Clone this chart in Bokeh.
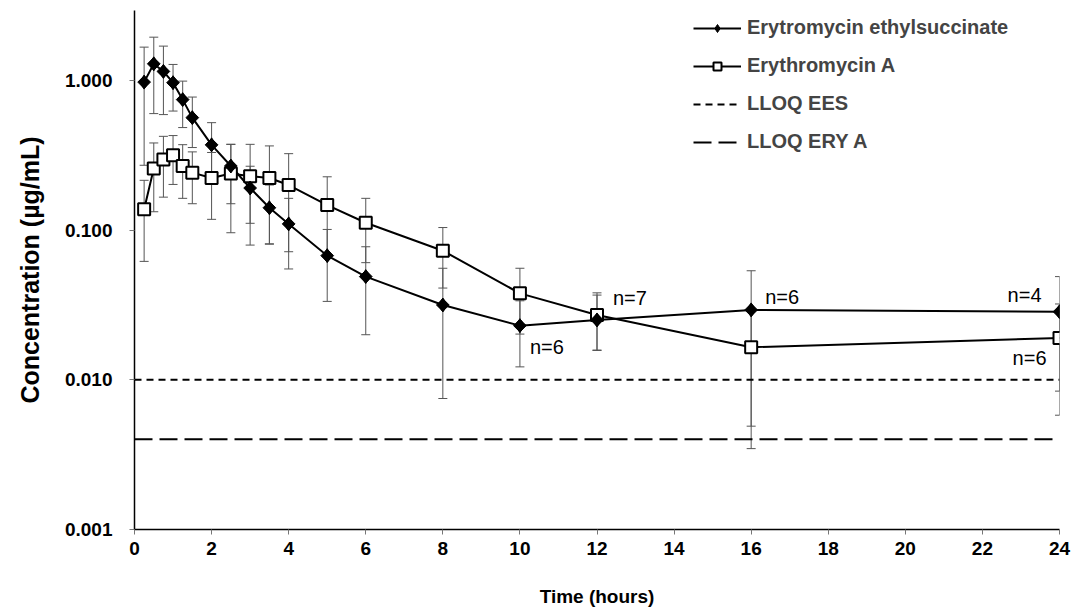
from bokeh.plotting import figure
from bokeh.models import (FixedTicker, PrintfTickFormatter, Whisker, ColumnDataSource,
                          Legend, LegendItem, TeeHead, Range1d)
from bokeh.embed import file_html
from bokeh.resources import INLINE
from bokeh.core.properties import value

# ---------------- data ----------------
time_h = [0.25, 0.5, 0.75, 1, 1.25, 1.5, 2, 2.5, 3, 3.5, 4, 5, 6, 8, 10, 12, 16, 24]

ees_mean = [0.974, 1.29, 1.148, 0.965, 0.744, 0.564, 0.371, 0.268, 0.191, 0.141,
            0.110, 0.0675, 0.0489, 0.0316, 0.0230, 0.0251, 0.0293, 0.0285]
ees_upper = [1.668, 1.944, 1.694, 1.278, 0.989, 0.774, 0.522, 0.374, 0.267, 0.200,
             0.163, 0.101, 0.0774, 0.0556, 0.0337, 0.0368, 0.0535, 0.0489]
ees_lower = [0.271, 0.600, 0.591, 0.624, 0.484, 0.356, 0.220, 0.150, 0.111, 0.081,
             0.055, 0.0334, 0.020, 0.0075, 0.0122, 0.0157, 0.0049, 0.0084]

ery_mean = [0.138, 0.258, 0.296, 0.316, 0.268, 0.242, 0.223, 0.239, 0.229, 0.223,
            0.200, 0.147, 0.112, 0.0728, 0.0378, 0.0271, 0.0165, 0.0190]
ery_upper = [0.215, 0.382, 0.423, 0.428, 0.372, 0.333, 0.330, 0.374, 0.374, 0.365,
             0.324, 0.227, 0.163, 0.104, 0.0556, 0.0381, 0.0293, 0.0321]
ery_lower = [0.0618, 0.1326, 0.166, 0.2018, 0.163, 0.150, 0.118, 0.096, 0.0794, 0.0805,
             0.0717, 0.067, 0.0606, 0.0410, 0.0202, 0.0158, 0.00347, 0.0058]

lloq_ees = 0.010
lloq_ery = 0.004
lloq_span = [0, 24]

x_ticks = [0, 2, 4, 6, 8, 10, 12, 14, 16, 18, 20, 22, 24]
y_ticks = [0.001, 0.01, 0.1, 1.0]

# n= annotations, anchored to a series point
ann_text = ["n=6", "n=7", "n=6", "n=4", "n=6"]
ann_time = [10, 12, 16, 24, 24]
ann_series = ["ees", "ery", "ees", "ees", "ery"]

series_lookup = {"ees": ees_mean, "ery": ery_mean}
ann_value = [series_lookup[s][time_h.index(t)] for s, t in zip(ann_series, ann_time)]

# ---------------- styling ----------------
FONT = "Liberation Sans"
ann_dx = [10, 16, 14, -18, -13]
ann_dy = [21, -17, -13, -17, 20]
ann_align = ["left", "left", "left", "right", "right"]

p = figure(width=1074, height=612, y_axis_type="log",
           x_range=Range1d(0, 24), y_range=Range1d(0.001, 2.93),
           output_backend="svg", toolbar_location=None,
           min_border_left=134, min_border_right=15,
           min_border_top=10, min_border_bottom=83)

p.outline_line_color = None
p.xgrid.visible = False
p.ygrid.visible = False
p.background_fill_color = "white"
p.border_fill_color = "white"

# axes
p.xaxis.ticker = FixedTicker(ticks=x_ticks)
p.yaxis.ticker = FixedTicker(ticks=y_ticks)
p.yaxis.formatter = PrintfTickFormatter(format="%.3f")
for ax in (p.xaxis, p.yaxis):
    ax.axis_line_color = "black"
    ax.axis_line_width = 1.5
    ax.major_tick_line_color = "#777777"
    ax.major_tick_line_width = 1
    ax.major_tick_in = 0
    ax.major_tick_out = 5
    ax.minor_tick_line_color = None
    ax.major_label_text_font = FONT
    ax.major_label_text_font_style = "bold"
    ax.major_label_text_font_size = "19px"
    ax.major_label_text_color = "black"
    ax.axis_label_text_font = FONT
    ax.axis_label_text_font_style = "bold"
    ax.axis_label_text_color = "black"
p.xaxis.axis_label_text_font_size = "19px"
p.yaxis.axis_label_text_font_size = "25px"
p.xaxis.major_label_standoff = 7
p.yaxis.major_label_standoff = 17
p.xaxis.axis_label = "Time (hours)"
p.yaxis.axis_label = "Concentration (µg/mL)"
p.xaxis.axis_label_standoff = 28
p.yaxis.axis_label_standoff = 18

# error bars
ERR_COLOR = "#555555"
src_ees = ColumnDataSource(dict(t=time_h, m=ees_mean, up=ees_upper, lo=ees_lower))
src_ery = ColumnDataSource(dict(t=time_h, m=ery_mean, up=ery_upper, lo=ery_lower))
for src in (src_ery, src_ees):
    w = Whisker(source=src, base="t", upper="up", lower="lo", dimension="height",
                line_color=ERR_COLOR, line_width=1,
                upper_head=TeeHead(size=9, line_color=ERR_COLOR, line_width=1),
                lower_head=TeeHead(size=9, line_color=ERR_COLOR, line_width=1))
    p.add_layout(w)

# LLOQ lines
r_lloq_ees = p.line(lloq_span, [lloq_ees, lloq_ees], line_color="black",
                    line_width=2, line_dash="7 5")
r_lloq_ery = p.line(lloq_span, [lloq_ery, lloq_ery], line_color="black",
                    line_width=2, line_dash="18 7")

# series
r_ees_line = p.line("t", "m", source=src_ees, line_color="black", line_width=2)
r_ery_line = p.line("t", "m", source=src_ery, line_color="black", line_width=2)
r_ery_mk = p.scatter("t", "m", source=src_ery, marker="square", size=12,
                     fill_color="white", line_color="black", line_width=2)
# diamond marker (also used as the legend glyph), covered by the rotated squares
r_ees_leg = p.scatter("t", "m", source=src_ees, marker="diamond", size=14,
                      fill_color="black", line_color="black", line_width=1)
r_ees_mk = p.scatter("t", "m", source=src_ees, marker="square", size=9, angle=0.785398,
                     fill_color="black", line_color="black", line_width=1)

# annotations
ann_src = ColumnDataSource(dict(x=ann_time, y=ann_value, text=ann_text,
                                dx=ann_dx, dy=ann_dy, align=ann_align))
p.text(x="x", y="y", text="text", source=ann_src, x_offset="dx", y_offset="dy",
       text_align="align", text_baseline="middle",
       text_font=value(FONT), text_font_size="20px", text_color="black")

legend = Legend(items=[
    LegendItem(label="Erytromycin ethylsuccinate", renderers=[r_ees_line, r_ees_leg]),
    LegendItem(label="Erythromycin A", renderers=[r_ery_line, r_ery_mk]),
    LegendItem(label="LLOQ EES", renderers=[r_lloq_ees]),
    LegendItem(label="LLOQ ERY A", renderers=[r_lloq_ery]),
], location=(559, 376))
legend.border_line_color = None
legend.background_fill_alpha = 0
legend.label_text_font = FONT
legend.label_text_font_style = "bold"
legend.label_text_font_size = "20px"
legend.glyph_width = 48
legend.glyph_height = 20
legend.label_height = 20
legend.spacing = 15
legend.padding = 0
legend.margin = 0
legend.label_standoff = 6
p.add_layout(legend)

open("out.html", "w").write(file_html(p, INLINE))
